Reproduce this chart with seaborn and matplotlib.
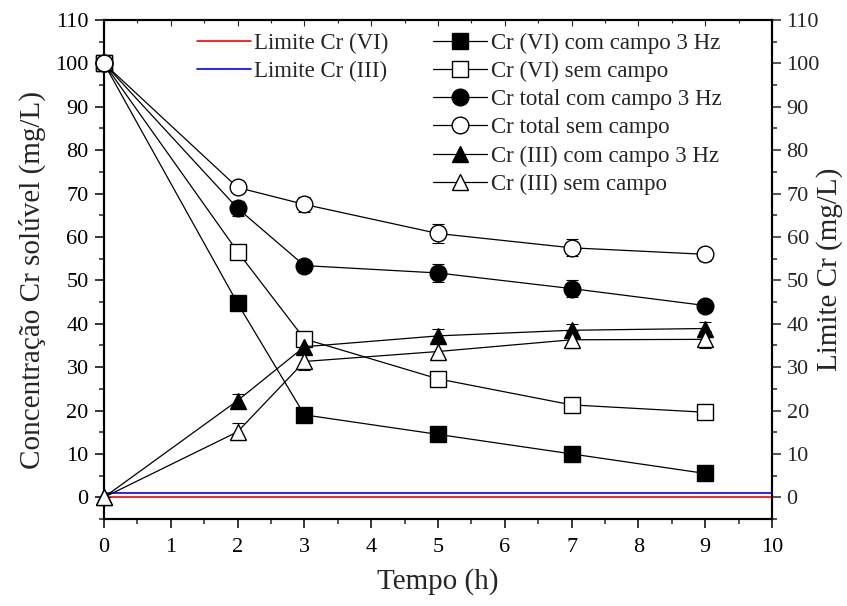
import matplotlib
matplotlib.use("Agg")
import matplotlib.pyplot as plt
from matplotlib.lines import Line2D
from matplotlib.ticker import MultipleLocator
import seaborn as sns
import pandas as pd

sns.set_theme(style="white")
plt.rcParams['font.family'] = ['Liberation Serif', 'DejaVu Serif']

tempo = [0, 2, 3, 5, 7, 9]

cr6_com = [100, 44.7, 19.0, 14.5, 10.0, 5.5]
cr6_sem = [100, 56.6, 36.5, 27.3, 21.3, 19.6]
crt_com = [100, 66.6, 53.4, 51.7, 48.1, 44.2]
crt_sem = [100, 71.4, 67.5, 60.8, 57.5, 56.0]
cr3_com = [0, 22.3, 34.7, 37.2, 38.5, 38.9]
cr3_sem = [0, 15.1, 31.3, 33.6, 36.3, 36.4]

err_cr6_com = [0, 0.8, 0.6, 0.8, 0.6, 0.5]
err_cr6_sem = [0, 0.6, 0.8, 0.6, 0.6, 0.5]
err_crt_com = [0, 1.8, 0.8, 2.0, 2.0, 1.0]
err_crt_sem = [0, 0.8, 1.8, 2.3, 2.0, 1.5]
err_cr3_com = [0, 1.5, 1.5, 1.5, 1.5, 1.5]
err_cr3_sem = [0, 2.0, 2.0, 2.0, 2.0, 2.0]

labels = ["Cr (VI) com campo 3 Hz", "Cr (VI) sem campo",
          "Cr total com campo 3 Hz", "Cr total sem campo",
          "Cr (III) com campo 3 Hz", "Cr (III) sem campo"]

limite_cr6 = 0.05
limite_cr3 = 1.0
limit_labels = ["Limite Cr (VI)", "Limite Cr (III)"]

series = [
    (cr6_com, err_cr6_com, 's', 'black'),
    (cr6_sem, err_cr6_sem, 's', 'white'),
    (crt_com, err_crt_com, 'o', 'black'),
    (crt_sem, err_crt_sem, 'o', 'white'),
    (cr3_com, err_cr3_com, '^', 'black'),
    (cr3_sem, err_cr3_sem, '^', 'white'),
]

fig = plt.figure(figsize=(8.47, 6.06), dpi=100)
ax = fig.add_axes([104/847, 1 - 519/606, (772-104)/847, (519-20)/606])
ax2 = ax.twinx()

# limit lines on secondary axis
lim_df = pd.DataFrame({"x": [0, 10], "y6": [limite_cr6]*2, "y3": [limite_cr3]*2})
sns.lineplot(data=lim_df, x="x", y="y6", ax=ax2, color="red", lw=1.2, legend=False)
sns.lineplot(data=lim_df, x="x", y="y3", ax=ax2, color="blue", lw=1.2, legend=False)

handles = []
for (vals, errs, mk, fc), lab in zip(series, labels):
    ax.errorbar(tempo, vals, yerr=errs, fmt='none', ecolor='black',
                elinewidth=0.8, capsize=4, capthick=0.8, zorder=2)
    sns.lineplot(x=tempo, y=vals, ax=ax, color='black', lw=0.9,
                 marker=mk, markersize=11 if mk != 'o' else 12,
                 markerfacecolor=fc, markeredgecolor='black',
                 markeredgewidth=1.0, legend=False, zorder=3, clip_on=False)
    handles.append(Line2D([], [], color='black', lw=0.9, marker=mk,
                          markersize=11 if mk != 'o' else 12, markerfacecolor=fc,
                          markeredgecolor='black', markeredgewidth=1.0))

for a in (ax, ax2):
    a.set_ylim(-5, 110)
    a.yaxis.set_major_locator(MultipleLocator(10))
    a.yaxis.set_minor_locator(MultipleLocator(5))
    a.set_xlim(0, 10)
ax.xaxis.set_major_locator(MultipleLocator(1))
ax.xaxis.set_minor_locator(MultipleLocator(0.5))

ax.tick_params(axis='both', which='major', direction='out', length=6.5, width=1.1,
               labelsize=16, colors='black', left=True, bottom=True, top=False)
ax.tick_params(axis='y', which='major', pad=4.5)
ax.tick_params(axis='x', which='major', pad=7)
ax.tick_params(axis='both', which='minor', direction='out', length=3.5, width=1.1,
               left=True, bottom=True, top=False)
ax2.tick_params(axis='y', which='major', direction='out', length=6.5, width=1.1,
                labelsize=16, right=True, pad=4)
ax2.tick_params(axis='y', which='minor', direction='out', length=3.5, width=1.1, right=True)

# inward ticks on top
secx = ax.secondary_xaxis('top')
secx.xaxis.set_major_locator(MultipleLocator(1))
secx.xaxis.set_minor_locator(MultipleLocator(0.5))
secx.tick_params(which='major', direction='in', length=4, width=0.8, labeltop=False)
secx.tick_params(which='minor', direction='in', length=2.5, width=0.8)
secx.spines['top'].set_visible(False)

for a in (ax, ax2):
    for s in a.spines.values():
        s.set_linewidth(1.5)
        s.set_color('black')

ax.set_xlabel("Tempo (h)", fontsize=21, labelpad=8)
ax.set_ylabel("Concentração Cr solúvel (mg/L)", fontsize=21)
ax.yaxis.set_label_coords(-0.087, 0.478)
ax2.set_ylabel("Limite Cr (mg/L)", fontsize=21, labelpad=-3)

leg_kw = dict(frameon=False, fontsize=16.5, handlelength=2.36, handletextpad=0.15,
              labelspacing=0.31, borderaxespad=0, borderpad=0, loc='upper left')
leg1 = ax.legend([Line2D([], [], color='red', lw=1.2), Line2D([], [], color='blue', lw=1.2)],
                 limit_labels, bbox_to_anchor=(0.139, 0.975), **leg_kw)
ax.add_artist(leg1)
ax.legend(handles, labels, bbox_to_anchor=(0.4925, 0.975), **leg_kw)

ax.set_zorder(ax2.get_zorder() + 1)
ax.patch.set_visible(False)

fig.savefig("out.png", dpi=100, facecolor='white')
